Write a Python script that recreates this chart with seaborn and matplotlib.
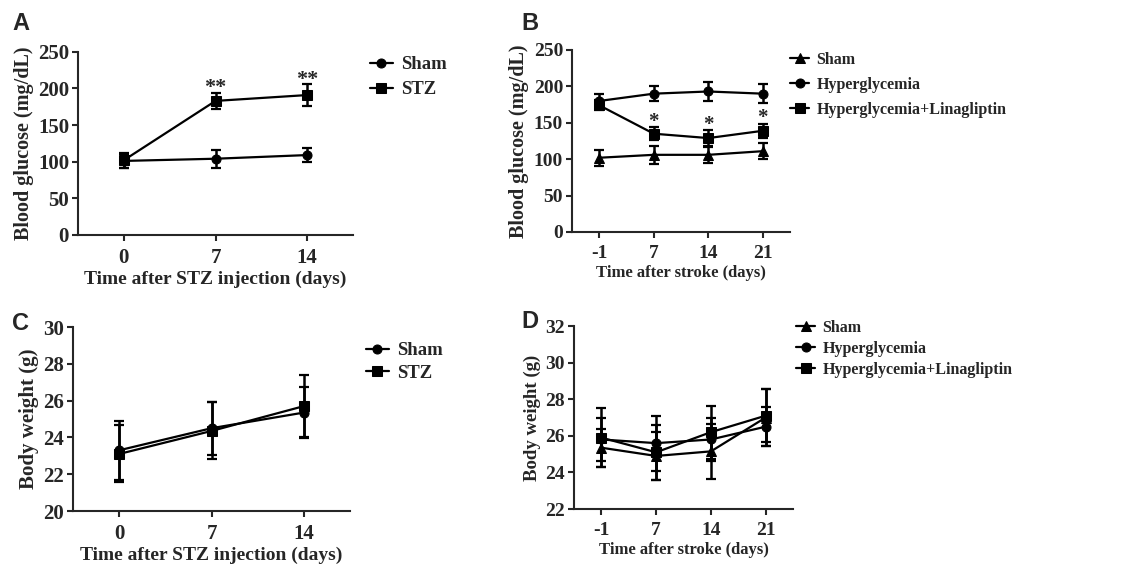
import numpy as np
import matplotlib
matplotlib.use("Agg")
import matplotlib.pyplot as plt
import seaborn as sns

# Panel A: blood glucose after STZ injection
days_a = ["0", "7", "14"]
sham_a = [101, 104, 109]
sham_a_err = [10, 12.5, 9]
stz_a = [102, 183, 191]
stz_a_err = [10, 11, 14.5]
stars_a = ["", "**", "**"]

# Panel B: blood glucose after stroke
days_b = ["-1", "7", "14", "21"]
sham_b = [102, 106, 106, 111]
sham_b_err = [11, 12, 11, 11]
hyper_b = [180, 190, 193, 190]
hyper_b_err = [9.5, 10, 13.5, 13]
lina_b = [174, 135, 129, 139]
lina_b_err = [7, 9, 11, 10]
stars_b = ["", "*", "*", "*"]

# Panel C: body weight after STZ injection
sham_c = [23.3, 24.5, 25.35]
sham_c_err = [1.6, 1.45, 1.4]
stz_c = [23.1, 24.35, 25.7]
stz_c_err = [1.55, 1.55, 1.7]

# Panel D: body weight after stroke
sham_d = [25.35, 24.9, 25.15, 27.0]
sham_d_err = [1.05, 1.3, 1.5, 1.55]
hyper_d = [25.8, 25.6, 25.8, 26.5]
hyper_d_err = [1.15, 1.5, 1.15, 1.05]
lina_d = [25.9, 25.1, 26.2, 27.1]
lina_d_err = [1.6, 1.5, 1.45, 1.45]

sns.set_style("ticks")
plt.rcParams["font.family"] = ["Liberation Serif", "DejaVu Serif"]
plt.rcParams["font.weight"] = "bold"

W, H = 1148, 570
fig = plt.figure(figsize=(W / 100, H / 100), dpi=100)


def draw_panel(ax, days, series, ylim, yticks, letter, letter_xy, ylabel, xlabel,
               lab_fs, tick_fs, leg_fs, leg_xy, leg_space, stars=None, star_fs=14, star_off=0):
    x = np.arange(len(days))
    for name, y, err, mk in series:
        sns.lineplot(x=x, y=y, marker=mk, color="black", linewidth=1.6,
                     markersize=6.5, markeredgecolor="black", label=name, ax=ax)
        ax.errorbar(x, y, yerr=err, fmt="none", ecolor="black", elinewidth=1.8,
                    capsize=3.5, capthick=1.6)
    if stars is not None:
        top_name, top_y, top_err, _ = series[-1]
        for xi, s, yv, ev in zip(x, stars, top_y, top_err):
            if s:
                ax.text(xi, yv + ev + star_off, s, ha="center", va="center",
                        fontsize=star_fs, fontweight="bold")
    ax.set_xlim(-0.5, len(days) - 0.5)
    ax.set_ylim(*ylim)
    ax.set_yticks(yticks)
    ax.set_xticks(x)
    ax.set_xticklabels(days)
    ax.tick_params(axis="both", direction="out", length=4.5, width=1.5,
                   labelsize=tick_fs, pad=2)
    ax.tick_params(axis="x", pad=5)
    for lab in ax.get_xticklabels() + ax.get_yticklabels():
        lab.set_fontweight("bold")
    ax.set_xlabel(xlabel, fontsize=lab_fs[0], fontweight="bold", labelpad=2)
    ax.set_ylabel(ylabel, fontsize=lab_fs[1], fontweight="bold", labelpad=3)
    sns.despine(ax=ax)
    for sp in ("left", "bottom"):
        ax.spines[sp].set_linewidth(1.5)
    ax.legend(loc="upper left", bbox_to_anchor=(leg_xy[0] / W, 1 - leg_xy[1] / H),
              bbox_transform=fig.transFigure,
              frameon=False, handlelength=1.2, handletextpad=0.45, borderaxespad=0,
              borderpad=0, labelspacing=leg_space, prop={"size": leg_fs, "weight": "bold"})
    fig.text(letter_xy[0] / W, 1 - letter_xy[1] / H, letter, fontsize=17, fontweight="bold",
             family="Liberation Sans", ha="left", va="center")


ax_a = fig.add_axes([0.068, 0.588, 0.2395, 0.321])
draw_panel(ax_a, days_a,
           [("Sham", sham_a, sham_a_err, "o"), ("STZ", stz_a, stz_a_err, "s")],
           (0, 250), np.arange(0, 251, 50), "A", (12, 24), "Blood glucose (mg/dL)",
           "Time after STZ injection (days)", (14, 14.5), 15, 13.5,
           (370, 56), 0.42, stars=stars_a, star_fs=16, star_off=6)

ax_b = fig.add_axes([0.4983, 0.593, 0.1899, 0.3193])
draw_panel(ax_b, days_b,
           [("Sham", sham_b, sham_b_err, "^"), ("Hyperglycemia", hyper_b, hyper_b_err, "o"),
            ("Hyperglycemia+Linagliptin", lina_b, lina_b_err, "s")],
           (0, 250), np.arange(0, 251, 50), "B", (521, 24), "Blood glucose (mg/dL)",
           "Time after stroke (days)", (12, 14.5), 14, 11.5,
           (790, 52), 0.55, stars=stars_b, star_fs=15, star_off=7)

ax_c = fig.add_axes([0.0636, 0.1035, 0.2413, 0.3228])
draw_panel(ax_c, days_a,
           [("Sham", sham_c, sham_c_err, "o"), ("STZ", stz_c, stz_c_err, "s")],
           (20, 30), np.arange(20, 31, 2), "C", (12, 323), "Body weight (g)",
           "Time after STZ injection (days)", (14, 15), 15, 13.5,
           (366, 342), 0.3)

ax_d = fig.add_axes([0.5, 0.107, 0.1908, 0.321])
draw_panel(ax_d, days_b,
           [("Sham", sham_d, sham_d_err, "^"), ("Hyperglycemia", hyper_d, hyper_d_err, "o"),
            ("Hyperglycemia+Linagliptin", lina_d, lina_d_err, "s")],
           (22, 32), np.arange(22, 33, 2), "D", (521, 321), "Body weight (g)",
           "Time after stroke (days)", (12, 13.5), 14, 11.5,
           (796, 320), 0.3)

fig.savefig("out.png", dpi=100)
